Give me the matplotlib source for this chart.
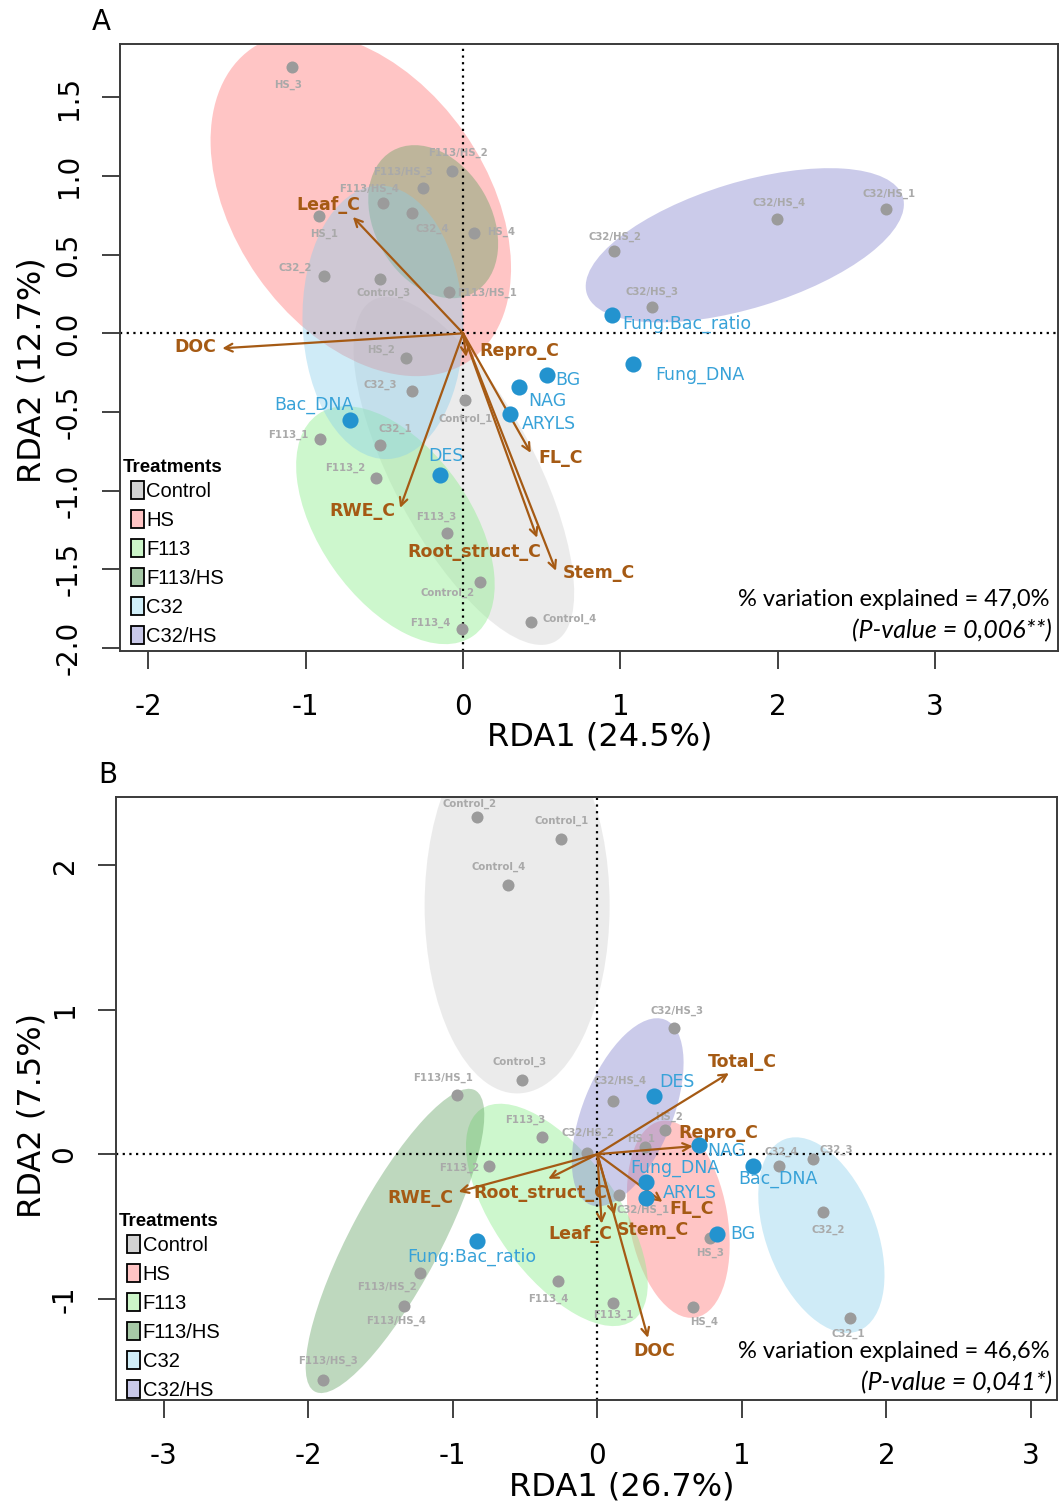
import matplotlib
matplotlib.use('Agg')
import matplotlib.pyplot as plt
from matplotlib.patches import Ellipse, Patch

plt.rcParams['font.family'] = ['DejaVu Sans']
plt.rcParams['axes.unicode_minus'] = False

treatments = ['Control', 'HS', 'F113', 'F113/HS', 'C32', 'C32/HS']
ell_colors = ['#c8c8c8', '#ff8c8c', '#90ee90', '#5e9e5e', '#87ceeb', '#8c8cd2']
ell_alpha = [0.35, 0.5, 0.45, 0.4, 0.4, 0.45]
leg_colors = ['#d2d2d2', '#ffc4c4', '#ccf5c8', '#a6c8a6', '#d0eef8', '#c8c8e8']

brown = '#a55a14'
blue_dot = '#2393cf'
blue_txt = '#38a2d8'
grey_dot = '#9b9b9b'
grey_txt = '#a9a9a9'

# ---------------- panel A ----------------
A_sites = ['HS_3', 'F113/HS_2', 'F113/HS_3', 'F113/HS_4', 'C32_4', 'HS_1', 'HS_4',
           'C32_2', 'Control_3', 'F113/HS_1', 'C32/HS_1', 'C32/HS_4', 'C32/HS_2',
           'C32/HS_3', 'HS_2', 'C32_3', 'Control_1', 'C32_1', 'F113_1', 'F113_2',
           'F113_3', 'Control_2', 'F113_4', 'Control_4']
A_site_x = [-1.087, -0.070, -0.254, -0.509, -0.324, -0.915, 0.070, -0.884, -0.528, -0.089,
            2.689, 1.996, 0.960, 1.200, -0.362, -0.324, 0.013, -0.528, -0.909, -0.553,
            -0.102, 0.108, -0.006, 0.432]
A_site_y = [1.694, 1.030, 0.924, 0.828, 0.764, 0.745, 0.637, 0.363, 0.344, 0.261,
            0.790, 0.726, 0.522, 0.166, -0.159, -0.369, -0.427, -0.713, -0.669, -0.917,
            -1.268, -1.580, -1.879, -1.834]

A_resp = ['Fung:Bac_ratio', 'Fung_DNA', 'BG', 'NAG', 'ARYLS', 'Bac_DNA', 'DES']
A_resp_x = [0.947, 1.081, 0.534, 0.356, 0.299, -0.718, -0.146]
A_resp_y = [0.115, -0.197, -0.268, -0.344, -0.516, -0.548, -0.898]

A_env = ['Leaf_C', 'DOC', 'Repro_C', 'FL_C', 'RWE_C', 'Root_struct_C', 'Stem_C']
A_env_x = [-0.70, -1.53, 0.02, 0.43, -0.40, 0.47, 0.59]
A_env_y = [0.74, -0.095, -0.15, -0.76, -1.11, -1.30, -1.51]

A_ell_x = [0.005, -0.65, -0.43, -0.19, -0.51, 1.79]
A_ell_y = [-0.875, 0.82, -1.22, 0.71, 0.07, 0.56]
A_ell_w = [2.46, 2.42, 1.72, 1.04, 1.74, 2.10]
A_ell_h = [0.90, 1.60, 0.96, 0.74, 1.02, 0.80]
A_ell_a = [-62, -55, -55, -60, -88, 17]

# ---------------- panel B ----------------
B_sites = ['Control_2', 'Control_1', 'Control_4', 'Control_3', 'C32/HS_3', 'C32/HS_4',
           'F113/HS_1', 'F113_3', 'C32/HS_2', 'HS_2', 'HS_1', 'F113_2', 'C32_4', 'C32_3',
           'C32/HS_1', 'HS_3', 'C32_2', 'F113/HS_2', 'F113/HS_4', 'F113_4', 'F113_1',
           'HS_4', 'C32_1', 'F113/HS_3']
B_site_x = [-0.83, -0.25, -0.62, -0.52, 0.53, 0.11, -0.97, -0.38, -0.07, 0.47, 0.33,
            -0.75, 1.26, 1.49, 0.15, 0.78, 1.56, -1.23, -1.34, -0.27, 0.11, 0.66, 1.75, -1.90]
B_site_y = [2.33, 2.18, 1.86, 0.51, 0.87, 0.37, 0.41, 0.12, 0.01, 0.17, 0.05, -0.08,
            -0.08, -0.03, -0.28, -0.58, -0.40, -0.82, -1.05, -0.88, -1.03, -1.06, -1.13, -1.56]

B_resp = ['DES', 'NAG', 'Fung_DNA', 'ARYLS', 'Bac_DNA', 'BG', 'Fung:Bac_ratio']
B_resp_x = [0.39, 0.70, 0.34, 0.34, 1.08, 0.83, -0.83]
B_resp_y = [0.40, 0.06, -0.19, -0.30, -0.08, -0.55, -0.60]

B_env = ['Total_C', 'Repro_C', 'FL_C', 'Stem_C', 'Leaf_C', 'Root_struct_C', 'RWE_C', 'DOC']
B_env_x = [0.91, 0.66, 0.45, 0.12, 0.03, -0.34, -0.96, 0.35]
B_env_y = [0.56, 0.055, -0.33, -0.42, -0.48, -0.17, -0.26, -1.27]

B_ell_x = [-0.555, 0.56, -0.28, -1.40, 1.55, 0.21]
B_ell_y = [1.72, -0.45, -0.42, -0.60, -0.56, 0.29]
B_ell_w = [2.60, 1.38, 1.80, 2.36, 1.42, 1.38]
B_ell_h = [1.28, 0.68, 0.84, 0.62, 0.76, 0.62]
B_ell_a = [90, -80, -54, 62, -69, 68]

# label offsets (pixels) -- layout only
A_site_off = [(-4, -18), (6, 19), (-20, 16), (-14, 14), (20, -16), (5, -18), (27, 1),
              (-29, 8), (4, -14), (38, -1), (3, 15), (2, 16), (1, 14), (0, 15), (-25, 8),
              (-32, 7), (0, -18), (15, 17), (-32, 4), (-31, 10), (-11, 16), (-33, -11),
              (-32, 6), (39, 3)]
A_resp_off = [(75, -9), (67, -11), (21, -5), (28, -14), (39, -10), (-36, 15), (6, 19)]
A_env_off = [(-25, 12), (-27, 1), (53, 6), (30, -5), (-38, -3), (-63, -14), (43, -2)]

B_site_off = [(-8, 13), (0, 18), (-9, 18), (-3, 19), (3, 17), (7, 20), (-14, 17), (-17, 17),
              (1, 20), (4, 13), (-4, 8), (-30, -2), (2, 14), (24, 9), (24, -15), (0, -15),
              (5, -18), (-33, -14), (-8, -15), (-10, -17), (0, -12), (11, -14), (-2, -16),
              (5, 19)]
B_resp_off = [(23, 14), (28, -6), (28, 14), (43, 5), (24, -13), (26, 0), (-6, -16)]
B_env_off = [(13, 11), (26, 13), (29, -7), (38, -15), (-21, -10), (-8, -14), (-38, -6), (6, -13)]

W, H = 1061, 1506
fig = plt.figure(figsize=(W / 100, H / 100), dpi=100)


def fx(px):
    return px / W


def fy(py):
    return 1 - py / H


def draw_panel(ax, sites, sx, sy, s_off, resp, rx, ry, r_off, env, ex, ey, e_off,
               ell, xlim, ylim, xticks, yticks, ytick_labels, leg_title_y, leg_top):
    for i in range(len(treatments)):
        ax.add_patch(Ellipse((ell[0][i], ell[1][i]), ell[2][i], ell[3][i], angle=ell[4][i],
                             facecolor=ell_colors[i], alpha=ell_alpha[i], edgecolor='none', zorder=1))
    ax.axhline(0, color='black', ls=(0, (1, 2)), lw=1.6, zorder=2)
    ax.axvline(0, color='black', ls=(0, (1, 2)), lw=1.6, zorder=2)

    for n, x, y, o in zip(sites, sx, sy, s_off):
        ax.annotate(n, (x, y), xytext=o, textcoords='offset pixels', ha='center', va='center',
                    fontsize=7.3, fontweight='bold', color=grey_txt, zorder=3)
    ax.scatter(sx, sy, s=75, color=grey_dot, linewidths=0, zorder=4)

    for n, x, y, o in zip(env, ex, ey, e_off):
        ax.annotate('', xy=(x, y), xytext=(0, 0),
                    arrowprops=dict(arrowstyle='->', color=brown, lw=1.6, shrinkA=0, shrinkB=0,
                                    mutation_scale=14), zorder=5)
        ax.annotate(n, (x, y), xytext=o, textcoords='offset pixels', ha='center', va='center',
                    fontsize=12.5, fontweight='bold', color=brown, zorder=6)

    ax.scatter(rx, ry, s=135, color=blue_dot, linewidths=0, zorder=6)
    for n, x, y, o in zip(resp, rx, ry, r_off):
        ax.annotate(n, (x, y), xytext=o, textcoords='offset pixels', ha='center', va='center',
                    fontsize=12.5, color=blue_txt, zorder=7)

    ax.set_xlim(xlim)
    ax.set_ylim(ylim)
    ax.set_xticks(xticks)
    ax.set_xticklabels([str(v) for v in xticks])
    ax.set_yticks(yticks)
    ax.set_yticklabels(ytick_labels, rotation=90, va='center')
    ax.tick_params(direction='out', length=13, width=1.3, labelsize=20, color='#333333')
    ax.tick_params(axis='x', pad=17)
    ax.tick_params(axis='y', pad=14)
    for sp in ax.spines.values():
        sp.set_linewidth(1.4)
        sp.set_color('#3a3a3a')

    leg_font = ['Liberation Sans', 'DejaVu Sans']
    ax.text(0.0032, leg_title_y, 'Treatments', transform=ax.transAxes, ha='left', va='center',
            fontsize=13.5, fontweight='bold', family=leg_font, zorder=8)
    handles = [Patch(facecolor=c, edgecolor='black', linewidth=1.3) for c in leg_colors]
    ax.legend(handles, treatments, loc='upper left', bbox_to_anchor=(0.0117, leg_top),
              frameon=False, prop={'family': leg_font, 'size': 14.5},
              handlelength=0.65, handleheight=1.0, handletextpad=0.12,
              labelspacing=0.45, borderaxespad=0, borderpad=0)


axA = fig.add_axes([fx(120), fy(651), fx(1058) - fx(120), fy(44) - fy(651)])
draw_panel(axA, A_sites, A_site_x, A_site_y, A_site_off, A_resp, A_resp_x, A_resp_y, A_resp_off,
           A_env, A_env_x, A_env_y, A_env_off,
           (A_ell_x, A_ell_y, A_ell_w, A_ell_h, A_ell_a),
           (-2.18, 3.78), (-2.02, 1.84), [-2, -1, 0, 1, 2, 3],
           [-2.0, -1.5, -1.0, -0.5, 0.0, 0.5, 1.0, 1.5],
           ['-2.0', '-1.5', '-1.0', '-0.5', '0.0', '0.5', '1.0', '1.5'],
           (651 - 468) / 607, (651 - 481) / 607)

axB = fig.add_axes([fx(116), fy(1400), fx(1057) - fx(116), fy(797) - fy(1400)])
draw_panel(axB, B_sites, B_site_x, B_site_y, B_site_off, B_resp, B_resp_x, B_resp_y, B_resp_off,
           B_env, B_env_x, B_env_y, B_env_off,
           (B_ell_x, B_ell_y, B_ell_w, B_ell_h, B_ell_a),
           (-3.33, 3.18), (-1.70, 2.47), [-3, -2, -1, 0, 1, 2, 3],
           [-1, 0, 1, 2], ['-1', '0', '1', '2'],
           (1400 - 1222) / 603, (1400 - 1235) / 603)

# axis titles and panel letters
fig.text(fx(600), fy(737), 'RDA1 (24.5%)', fontsize=23, ha='center', va='center')
fig.text(fx(32), fy(370), 'RDA2 (12.7%)', fontsize=23, ha='center', va='center', rotation=90)
fig.text(fx(622), fy(1487), 'RDA1 (26.7%)', fontsize=23, ha='center', va='center')
fig.text(fx(32), fy(1115), 'RDA2 (7.5%)', fontsize=23, ha='center', va='center', rotation=90)
fig.text(fx(101), fy(22), 'A', fontsize=20, ha='center', va='center')
fig.text(fx(108), fy(775), 'B', fontsize=20, ha='center', va='center')

stat_font = ['Lato', 'DejaVu Sans']
fig.text(fx(1050), fy(599), '% variation explained = 47,0%', fontsize=17, ha='right', va='center',
         family=stat_font)
fig.text(fx(1052), fy(631), '(P-value = 0,006**)', fontsize=18, ha='right', va='center',
         family=stat_font, style='italic')
fig.text(fx(1050), fy(1352), '% variation explained = 46,6%', fontsize=17, ha='right', va='center',
         family=stat_font)
fig.text(fx(1052), fy(1383), '(P-value = 0,041*)', fontsize=18, ha='right', va='center',
         family=stat_font, style='italic')

fig.savefig('out.png', dpi=100)
